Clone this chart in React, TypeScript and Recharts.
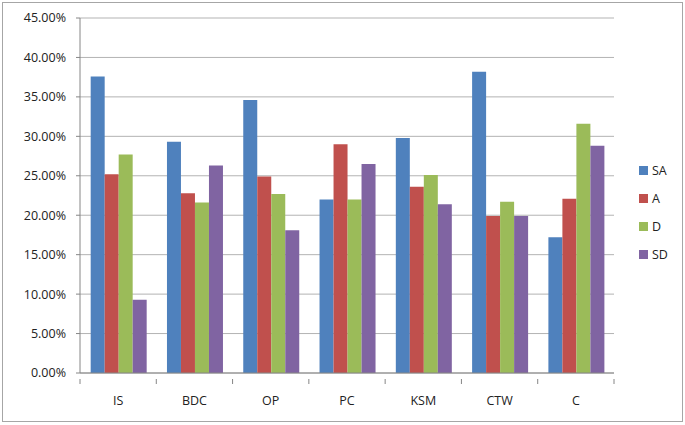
import React from "react";
import { BarChart, Bar, XAxis, YAxis, CartesianGrid, Legend } from "recharts";

const categories = ["IS", "BDC", "OP", "PC", "KSM", "CTW", "C"];
const saValues = [37.6, 29.3, 34.6, 22.0, 29.8, 38.2, 17.2];
const aValues = [25.2, 22.8, 24.9, 29.0, 23.6, 19.9, 22.1];
const dValues = [27.7, 21.6, 22.7, 22.0, 25.1, 21.7, 31.6];
const sdValues = [9.3, 26.3, 18.1, 26.5, 21.4, 19.9, 28.8];
const yTicks = [0, 5, 10, 15, 20, 25, 30, 35, 40, 45];

const seriesNames = ["SA", "A", "D", "SD"];
const seriesColors = ["#4F81BD", "#C0504D", "#9BBB59", "#8064A2"];

const data = categories.map((c, i) => ({
  name: c,
  SA: saValues[i],
  A: aValues[i],
  D: dValues[i],
  SD: sdValues[i],
}));

const FONT = "'Open Sans', 'Liberation Sans', sans-serif";

const XTick = (props: any) => {
  const { x, y, payload, index, visibleTicksCount, width } = props;
  const count = visibleTicksCount || categories.length;
  const band = (width || 534) / count;
  const axisY = y - 18;
  return (
    <g>
      <line x1={x - band / 2} x2={x - band / 2} y1={axisY} y2={axisY + 5} stroke="#868686" />
      {index === count - 1 && (
        <line x1={x + band / 2} x2={x + band / 2} y1={axisY} y2={axisY + 5} stroke="#868686" />
      )}
      <text x={x} y={y} dy={8} textAnchor="middle" fill="#222" fontSize={12.5} fontFamily={FONT}>
        {payload.value}
      </text>
    </g>
  );
};

const LegendContent = () => (
  <div style={{ fontFamily: FONT, fontSize: 12.5, color: "#222" }}>
    {seriesNames.map((n, i) => (
      <div key={n} style={{ display: "flex", alignItems: "center", height: 28 }}>
        <span style={{ width: 9, height: 9, background: seriesColors[i], display: "inline-block", marginRight: 4 }} />
        <span>{n}</span>
      </div>
    ))}
  </div>
);

export default function App() {
  return (
    <div style={{ position: "absolute", left: 0, top: 0, width: 685, height: 425, background: "#fff" }}>
      <div
        style={{
          position: "absolute",
          left: 2,
          top: 2,
          width: 679,
          height: 418,
          border: "1px solid #a6a6a6",
        }}
      />
      <BarChart
        width={685}
        height={425}
        data={data}
        margin={{ top: 18, right: 31, bottom: 22, left: 0 }}
        barCategoryGap="14%"
        barGap={0}
      >
        <CartesianGrid vertical={false} stroke="#b3b3b3" />
        <XAxis
          dataKey="name"
          stroke="#868686"
          tickLine={false}
          tick={<XTick />}
          tickMargin={18}
          interval={0}
        />
        <YAxis
          width={80}
          domain={[0, 45]}
          ticks={yTicks}
          stroke="#868686"
          tickSize={4}
          tickMargin={10}
          tickFormatter={(v: number) => v.toFixed(2) + "%"}
          tick={{ fill: "#222", fontSize: 12.5, fontFamily: FONT }}
          interval={0}
        />
        <Legend
          layout="vertical"
          align="right"
          verticalAlign="top"
          content={<LegendContent />}
          wrapperStyle={{ position: "absolute", left: 639, top: 156, width: 40 }}
        />
        {seriesNames.map((n, i) => (
          <Bar key={n} dataKey={n} fill={seriesColors[i]} isAnimationActive={false} />
        ))}
      </BarChart>
    </div>
  );
}
